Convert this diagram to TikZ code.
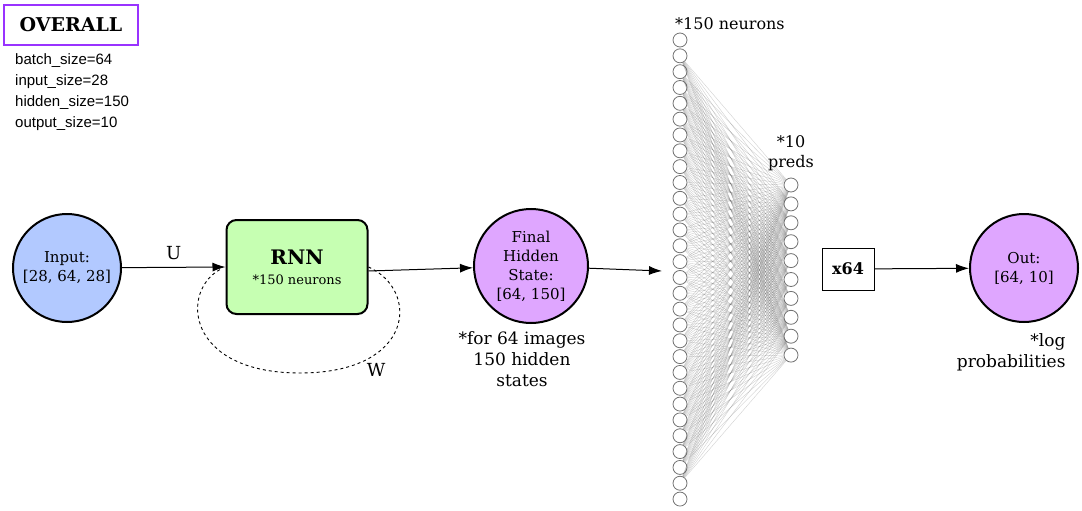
\documentclass[tikz,border=0pt]{standalone}
\usepackage{fontspec}
\setmainfont{DejaVu Serif}
\newfontfamily\labelsans{Liberation Sans}
\usetikzlibrary{positioning}
\usetikzlibrary{arrows.meta}
\definecolor{inputblue}{RGB}{178,201,255}
\definecolor{rnngreen}{RGB}{198,255,178}
\definecolor{statepurple}{RGB}{223,166,255}
\definecolor{overallviolet}{RGB}{153,51,255}
\tikzset{
    statenode/.style = {circle, line width=2pt, draw=black, align=center, inner sep=0pt, font=\fontsize{15}{19}\selectfont, text=black},
    rnnbox/.style = {rectangle, rounded corners=10pt, line width=2pt, draw=black, fill=rnngreen, align=center, minimum width=141pt, minimum height=94pt, font=\fontsize{13}{20}\selectfont},
    neuron/.style = {circle, draw=black!55, fill=white, line width=0.8pt, minimum size=14pt, inner sep=0pt},
    plainbox/.style = {rectangle, draw=black, line width=1pt, minimum width=52pt, minimum height=42pt, font=\fontsize{16}{19}\selectfont\bfseries},
    notetext/.style = {align=center, font=\fontsize{17}{21}\selectfont},
    sizetext/.style = {anchor=west, inner sep=0pt, font=\labelsans\fontsize{15}{18}\selectfont},
    edgen/.style = {-{Latex[length=13pt,width=9pt]}, line width=1pt, black},
    edged/.style = {-, line width=0.9pt, black, dashed}, % recurrence
    edgeg/.style = {-, line width=0.4pt, black!60, opacity=0.3} % dense
}
\begin{document}
\begin{tikzpicture}[x=1pt,y=-1pt]
\useasboundingbox (0,0) rectangle (1082,511);

% header
\node[draw=overallviolet, line width=2pt, minimum width=134pt, minimum height=40pt, font=\fontsize{19}{22}\selectfont\bfseries] at (71,25) (overall) {OVERALL};
\node[sizetext] at (15,61) (bs) {batch\_size=64};
\node[sizetext] at (15,82) (is) {input\_size=28};
\node[sizetext] at (15,103) (hs) {hidden\_size=150};
\node[sizetext] at (15,124) (os) {output\_size=10};

% main chain
\node[statenode, fill=inputblue, minimum size=108pt] at (67,268) (input) {Input:\\{[}28, 64, 28{]}};
\node[rnnbox] at (297,267) (rnn) {{\fontsize{20}{24}\selectfont\bfseries RNN}\\{*150 neurons}};
\node[statenode, fill=statepurple, minimum size=114pt] at (531,266) (final) {Final\\Hidden\\State:\\{[}64, 150{]}};
\node[notetext] at (522,359) (finalnote) {*for 64 images\\150 hidden\\states};
\coordinate (loopin) at (221,269);
\coordinate (nnin) at (662,271);

\draw[edgen] (input) -- node[above=4pt, font=\fontsize{18}{20}\selectfont] (ulabel) {U} (rnn.west);
\draw[edged] (rnn.east) .. controls (420,290) and (415,373) .. (300,373)
    .. controls (185,373) and (180,290) .. (loopin);
\node[font=\fontsize{18}{20}\selectfont] at (376,370) (wlabel) {W};
\draw[edgen] ([yshift=-4pt]rnn.east) -- (final);
\draw[edgen] (final) -- (nnin);

% dense layer
\node[font=\fontsize{16}{19}\selectfont, anchor=west, inner sep=0pt] at (675,24) (hidlabel) {*150 neurons};
\node[align=center, font=\fontsize{16}{20}\selectfont] at (791,153) (predlabel) {*10\\preds};
\foreach \i in {1,...,30}
    \node[neuron] at (680,{40+(\i-1)*15.83}) (h\i) {};
\foreach \j in {1,...,10}
    \node[neuron] at (791,{185+(\j-1)*18.9}) (p\j) {};
\foreach \i in {2,...,29}
    \foreach \j in {1,...,10}
        \draw[edgeg] (h\i) -- (p\j);

% output
\node[plainbox] at (848,269) (batch) {x64};
\node[statenode, fill=statepurple, minimum size=108pt] at (1024,268) (out) {Out:\\{[}64, 10{]}};
\node[notetext, align=right, anchor=east] at (1069,352) (outnote) {*log\\probabilities};
\draw[edgen] (batch) -- (out);

\end{tikzpicture}
\end{document}
